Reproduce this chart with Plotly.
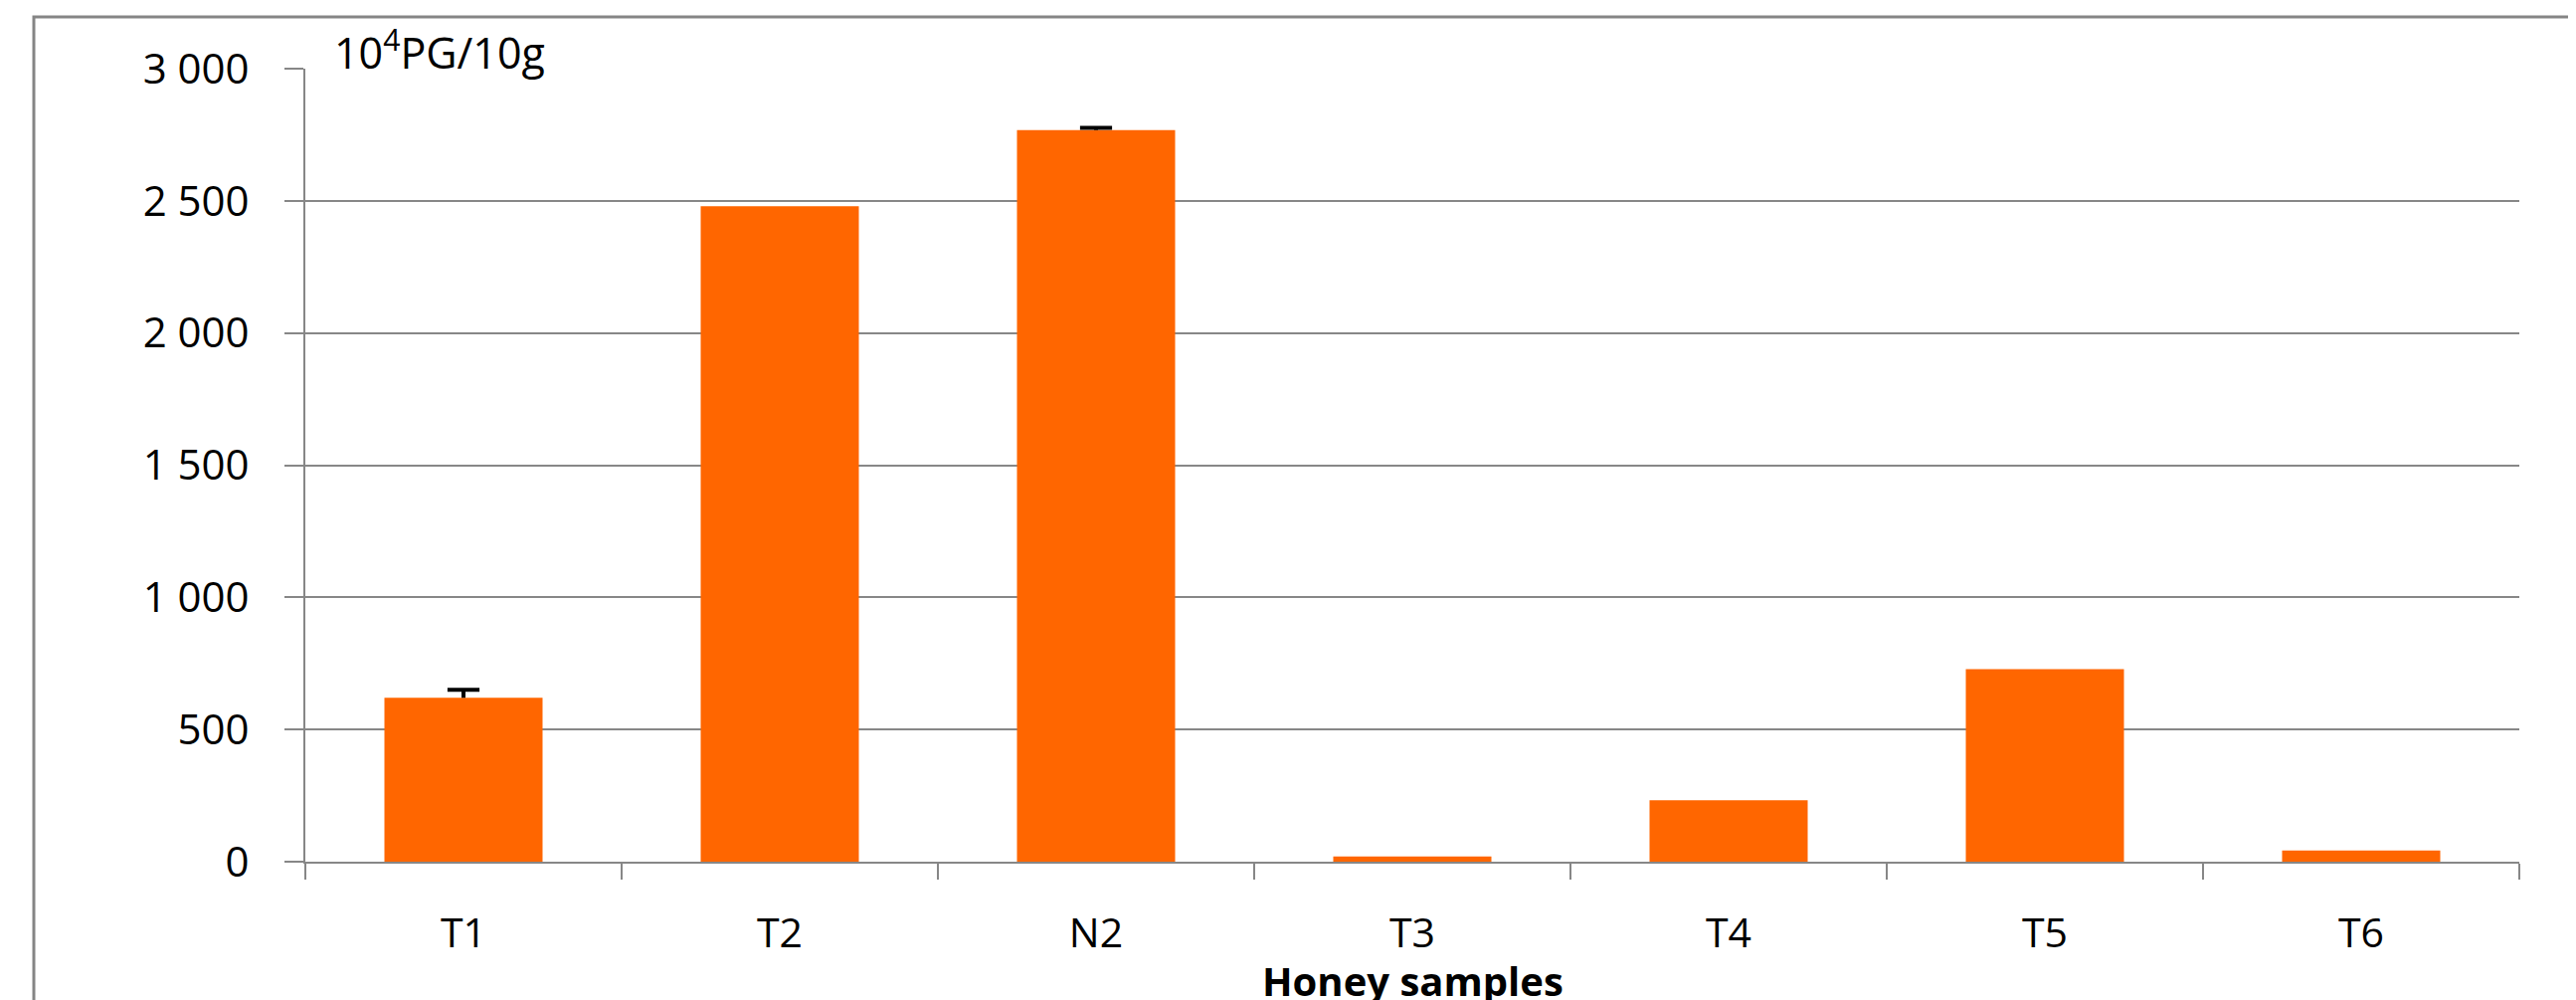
import plotly.graph_objects as go

# ---- data ----
categories = ["T1", "T2", "N2", "T3", "T4", "T5", "T6"]
values = [620, 2480, 2768, 20, 232, 728, 42]
err_categories = ["T1", "N2"]
err_values = [620, 2768]
err_plus = [30, 8]
y_tickvals = [0, 500, 1000, 1500, 2000, 2500, 3000]
y_ticktext = ["0", "500", "1 000", "1 500", "2 000", "2 500", "3 000"]

# page body has an 8px margin; size figure so it fits the 2590x1005 window
OFF = 8
W, H = 2590 - OFF, 1005 - OFF
L, R, T, B = 307 - OFF, 57, 69 - OFF, 139
PW = W - L - R
PH = H - T - B
FONT = "Open Sans"
GRAY = "#878787"


def px_x(px):
    return (px - OFF - L) / PW


def px_y(py):
    return (H - B - (py - OFF)) / PH


fig = go.Figure()
fig.add_trace(go.Bar(
    x=categories, y=values,
    marker=dict(color="#FF6600", line=dict(width=0)),
    showlegend=False, hoverinfo="x+y",
))
fig.add_trace(go.Scatter(
    x=err_categories,
    y=[v + e for v, e in zip(err_values, err_plus)],
    mode="markers",
    marker=dict(symbol="line-ew", size=23, line=dict(width=4, color="black"), color="black"),
    error_y=dict(type="data", symmetric=False, array=[0] * len(err_plus),
                 arrayminus=err_plus, width=0, thickness=4, color="black"),
    showlegend=False, hoverinfo="skip",
))

fig.update_layout(
    width=W, height=H,
    margin=dict(l=L, r=R, t=T, b=B, autoexpand=False),
    paper_bgcolor="white", plot_bgcolor="white",
    bargap=0.5,
    font=dict(family=FONT, color="black", size=41),
    showlegend=False,
)
fig.update_yaxes(
    range=[0, 3000], tickvals=y_tickvals, ticktext=y_ticktext,
    showgrid=True, gridcolor=GRAY, gridwidth=2,
    showline=True, linecolor=GRAY, linewidth=2,
    ticks="outside", ticklen=19, tickwidth=2, tickcolor=GRAY,
    ticklabelstandoff=27,
    tickfont=dict(family=FONT, size=42, color="black"),
    zeroline=False,
)
fig.update_xaxes(
    type="category",
    showline=True, linecolor=GRAY, linewidth=2,
    ticks="outside", ticklen=16, tickwidth=2, tickcolor=GRAY,
    tickson="boundaries",
    showgrid=False,
    tickfont=dict(family=FONT, size=41, color="black"),
    ticklabelstandoff=35,
)

fig.add_annotation(
    text="10<sup>4</sup>PG/10g", xref="paper", yref="paper",
    x=px_x(334), y=px_y(51), xanchor="left", yanchor="middle",
    showarrow=False, font=dict(family=FONT, size=43, color="black"),
)
fig.add_annotation(
    text="<b>Honey samples</b>", xref="paper", yref="paper",
    x=0.5, y=px_y(986), xanchor="center", yanchor="middle",
    showarrow=False, font=dict(family=FONT, size=40, color="black"),
)
fig.add_shape(
    type="rect", xref="paper", yref="paper",
    x0=px_x(34), y0=px_y(17), x1=px_x(2620), y1=px_y(1040),
    line=dict(color="#858585", width=3), fillcolor="rgba(0,0,0,0)", layer="below",
)

fig.write_html("out.html")
